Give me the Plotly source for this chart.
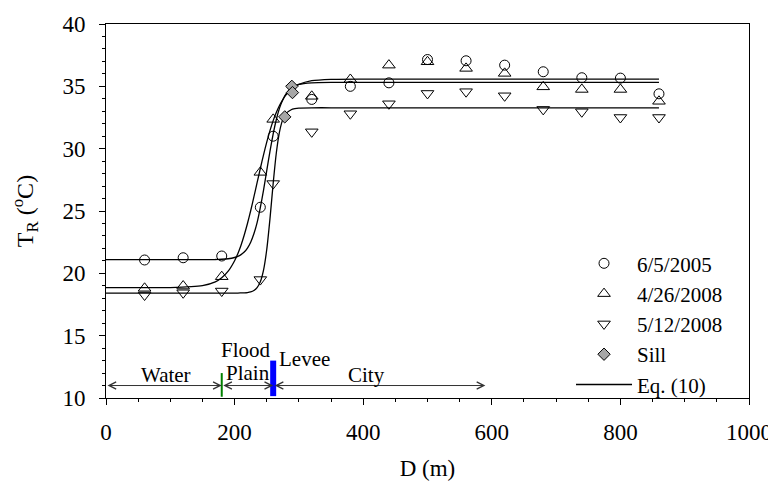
import plotly.graph_objects as go

# ---------------- data ----------------
D_obs = [60, 120, 180, 240, 260, 320, 380, 440, 500, 560, 620, 680, 740, 800, 860]
T_2005_06_05 = [21.07, 21.25, 21.39, 25.3, 31.0, 33.95, 35.0, 35.28, 37.15, 37.05, 36.7, 36.17, 35.69, 35.66, 34.4]
T_2008_04_26 = [18.8, 18.98, 19.73, 28.1, 32.35, 34.2, 35.55, 36.7, 36.97, 36.44, 36.04, 34.96, 34.75, 34.75, 33.8]
T_2008_05_12 = [18.26, 18.44, 18.58, 19.5, 27.2, 31.35, 32.8, 33.6, 34.43, 34.57, 34.24, 33.15, 32.96, 32.5, 32.5]

D_sill = [278, 289, 290]
T_sill = [32.55, 35.0, 34.5]

# Eq. (10) fitted curves
curve_D = [0, 100, 150, 170, 180, 190, 200, 205, 210, 215, 220, 225, 230, 235, 240,
           245, 250, 255, 260, 265, 270, 275, 280, 290, 300, 320, 350, 400, 600, 860]
curve_2005_06_05 = [21.1, 21.1, 21.1, 21.11, 21.13, 21.17, 21.27, 21.36, 21.5, 21.71, 22.03, 22.5, 23.17, 24.07, 25.27,
                    26.68, 28.24, 29.79, 31.19, 32.36, 33.27, 33.93, 34.39, 34.92, 35.15, 35.28, 35.31, 35.31, 35.31, 35.31]
curve_2008_04_26 = [18.85, 18.86, 19.01, 19.31, 19.64, 20.17, 21.01, 21.58, 22.26, 23.07, 24.0, 25.02, 26.13, 27.27, 28.41,
                    29.51, 30.53, 31.45, 32.25, 32.92, 33.48, 33.94, 34.31, 34.83, 35.15, 35.45, 35.56, 35.58, 35.58, 35.58]
curve_2008_05_12 = [18.42, 18.42, 18.42, 18.42, 18.42, 18.42, 18.42, 18.42, 18.43, 18.44, 18.46, 18.51, 18.62, 18.85, 19.32,
                    20.26, 21.91, 24.37, 27.22, 29.71, 31.39, 32.35, 32.84, 33.18, 33.26, 33.28, 33.28, 33.28, 33.28, 33.28]

# zones along the section (bottom arrows)
zone_labels = ["Water", "City"]
zone_label_D = [93, 405]
arrow_start = [0, 180, 260]
arrow_end = [180, 260, 590]
arrow_T = 11
flood_label_D = 218
levee_label_D = 308
floodplain_edge_D = 180
levee_D = 260

x_ticks = [0, 200, 400, 600, 800, 1000]
y_ticks = [10, 15, 20, 25, 30, 35, 40]

FONT = "Times New Roman"

fig = go.Figure()

# fitted curves
for i, c in enumerate([curve_2005_06_05, curve_2008_04_26, curve_2008_05_12]):
    fig.add_trace(go.Scatter(
        x=curve_D, y=c, mode="lines", line=dict(color="black", width=1.3, shape="spline", smoothing=0.5),
        name="Eq. (10)", legendgroup="eq", showlegend=(i == 0), legendrank=5))

marker_line = dict(color="black", width=1)
fig.add_trace(go.Scatter(x=D_obs, y=T_2005_06_05, mode="markers", name="6/5/2005", legendrank=1,
                         marker=dict(symbol="circle-open", size=10, color="black", line=dict(width=1))))
fig.add_trace(go.Scatter(x=D_obs, y=T_2008_04_26, mode="markers", name="4/26/2008", legendrank=2,
                         marker=dict(symbol="triangle-up-open", size=11, color="black", line=dict(width=1))))
fig.add_trace(go.Scatter(x=D_obs, y=T_2008_05_12, mode="markers", name="5/12/2008", legendrank=3,
                         marker=dict(symbol="triangle-down-open", size=11, color="black", line=dict(width=1))))
fig.add_trace(go.Scatter(x=D_sill, y=T_sill, mode="markers", name="Sill", legendrank=4,
                         marker=dict(symbol="diamond", size=9.5, color="#a6a6a6", line=marker_line)))

# zone arrows
for a, b in zip(arrow_start, arrow_end):
    fig.add_annotation(x=b, y=arrow_T, ax=a, ay=arrow_T, xref="x", yref="y", axref="x", ayref="y",
                       text="", showarrow=True, arrowhead=5, startarrowhead=5, arrowside="end+start",
                       arrowsize=1.4, startarrowsize=1.4, arrowwidth=1, arrowcolor="#333333")

# boundaries
fig.add_shape(type="line", x0=floodplain_edge_D, x1=floodplain_edge_D, y0=10.1, y1=12.0,
              xref="x", yref="y", line=dict(color="#008000", width=2))
fig.add_shape(type="line", x0=levee_D, x1=levee_D, y0=10.15, y1=13.0,
              xref="x", yref="y", line=dict(color="#0000ff", width=6))

# zone labels
for lab, d in zip(zone_labels, zone_label_D):
    fig.add_annotation(x=d, y=11.85, text=lab, showarrow=False, xref="x", yref="y",
                       font=dict(family=FONT, size=21, color="black"))
fig.add_annotation(x=flood_label_D, y=13.85, text="Flood", showarrow=False,
                   font=dict(family=FONT, size=21, color="black"))
fig.add_annotation(x=flood_label_D + 3, y=12.0, text="Plain", showarrow=False,
                   font=dict(family=FONT, size=21, color="black"))
fig.add_annotation(x=levee_label_D, y=13.1, text="Levee", showarrow=False,
                   font=dict(family=FONT, size=21, color="black"))

axis_common = dict(showline=True, linecolor="black", linewidth=1, mirror=True, showgrid=False,
                   zeroline=False, ticks="outside", ticklen=6, tickcolor="black", tickwidth=1,
                   automargin=False,
                   tickfont=dict(family=FONT, size=23, color="black"))

fig.update_xaxes(range=[0, 1000], tickvals=x_ticks, ticklabelstandoff=7,
                 minor=dict(dtick=50, ticklen=3, ticks="outside", tickcolor="black"),
                 title=dict(text="D (m)", font=dict(family=FONT, size=23, color="black"), standoff=16),
                 **axis_common)
fig.update_yaxes(range=[10, 40], tickvals=y_ticks, ticklabelstandoff=9,
                 minor=dict(dtick=1, ticklen=3, ticks="outside", tickcolor="black"),
                 title=dict(text="T<sub>R</sub> (<sup>o</sup>C)", font=dict(family=FONT, size=24, color="black"),
                            standoff=24),
                 **axis_common)

fig.update_layout(
    width=768, height=478, autosize=False,
    margin=dict(l=98, r=27, t=16, b=88, autoexpand=False),
    plot_bgcolor="white", paper_bgcolor="white",
    font=dict(family=FONT, color="black"),
    legend=dict(x=0.7232, y=0.414, xanchor="left", yanchor="top", bgcolor="rgba(0,0,0,0)",
                itemwidth=56,
                font=dict(family=FONT, size=21, color="black"), tracegroupgap=0, borderwidth=0),
)

fig.write_html("out.html")
